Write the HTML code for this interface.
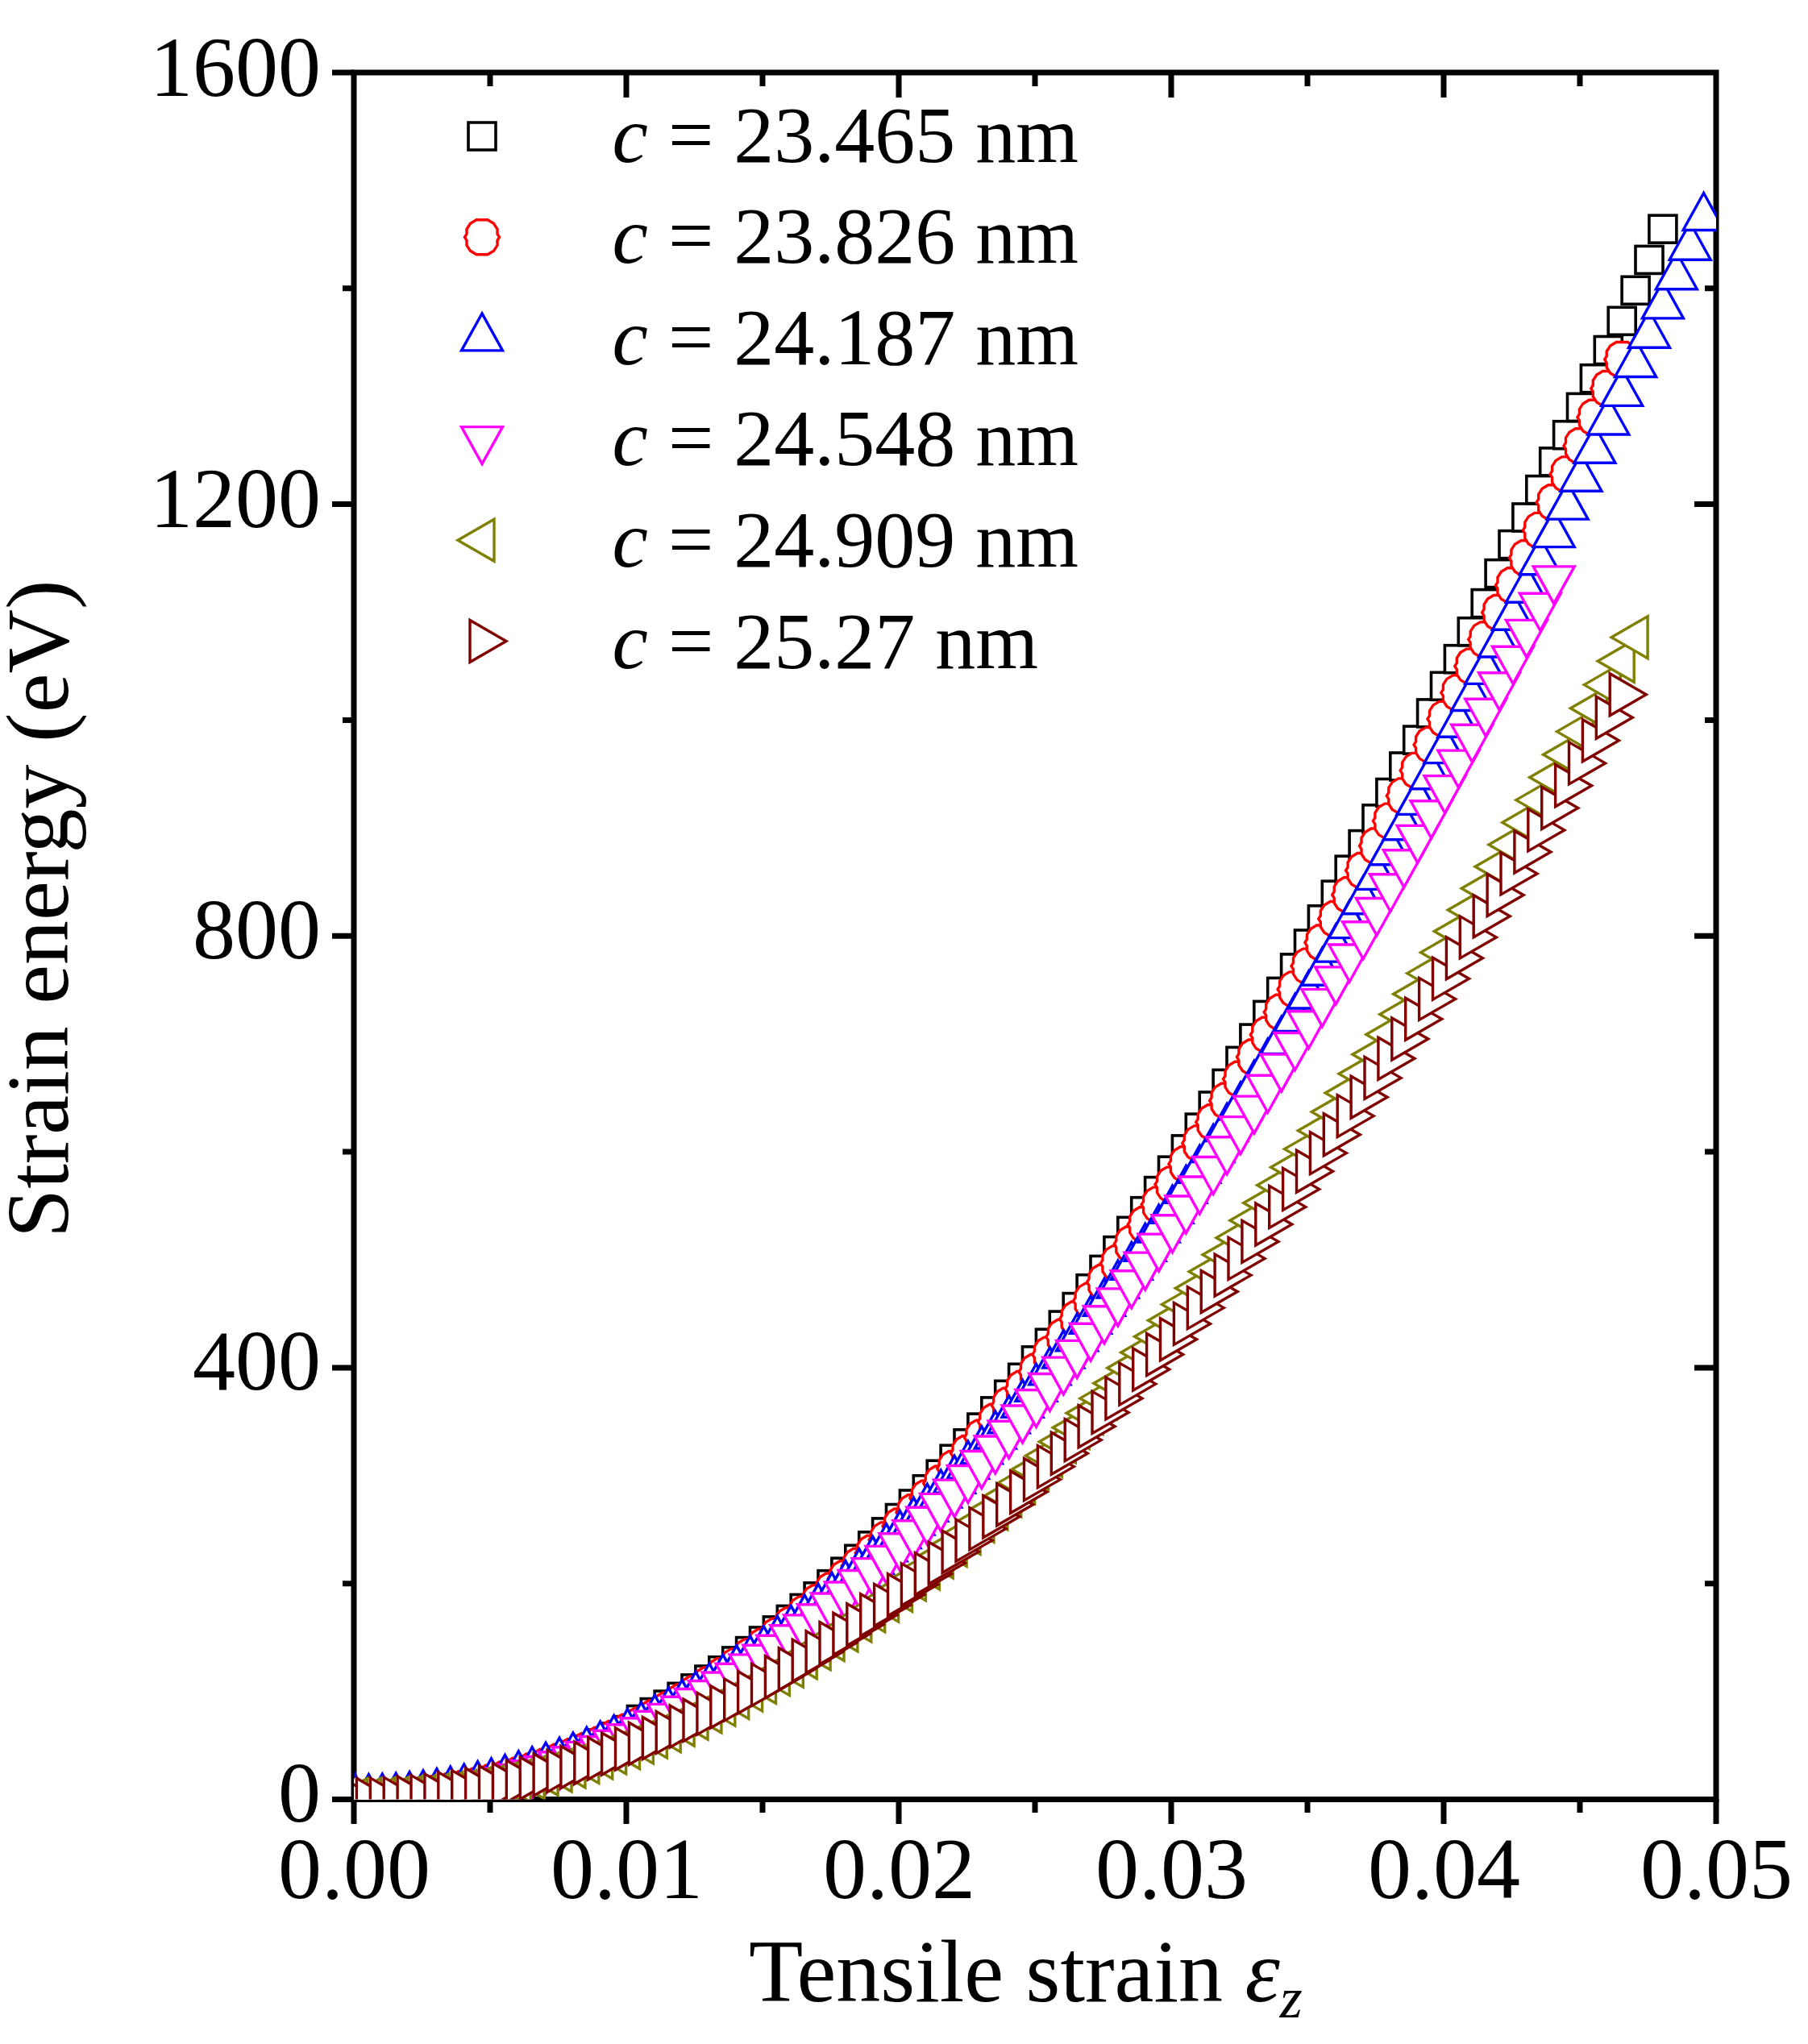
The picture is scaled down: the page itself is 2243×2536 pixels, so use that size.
<!DOCTYPE html><html><head><meta charset="utf-8"><style>html,body{margin:0;padding:0;background:#fff;overflow:hidden;}svg{display:block;}</style></head><body>
<div id="w"><svg width="2243" height="2536" viewBox="0 0 2243 2536">
<rect x="0" y="0" width="2243" height="2536" fill="#fff"/>
<defs><clipPath id="pa"><rect x="439.0" y="90.0" width="1690.0" height="2142.5"/></clipPath></defs>
<g stroke="#000" stroke-width="7.0" fill="none" stroke-linecap="square">
<rect x="439.0" y="90.0" width="1690.0" height="2142.5"/>
</g>
<path d="M439.0,2232.5V2263.0M608.0,2232.5V2249.0M608.0,90.0V107.0M777.0,2232.5V2263.0M777.0,90.0V121.0M946.0,2232.5V2249.0M946.0,90.0V107.0M1115.0,2232.5V2263.0M1115.0,90.0V121.0M1284.0,2232.5V2249.0M1284.0,90.0V107.0M1453.0,2232.5V2263.0M1453.0,90.0V121.0M1622.0,2232.5V2249.0M1622.0,90.0V107.0M1791.0,2232.5V2263.0M1791.0,90.0V121.0M1960.0,2232.5V2249.0M1960.0,90.0V107.0M2129.0,2232.5V2263.0M439.0,2232.5H412.0M439.0,1964.7H425.0M2129.0,1964.7H2115.0M439.0,1696.9H412.0M2129.0,1696.9H2102.0M439.0,1429.1H425.0M2129.0,1429.1H2115.0M439.0,1161.2H412.0M2129.0,1161.2H2102.0M439.0,893.4H425.0M2129.0,893.4H2115.0M439.0,625.6H412.0M2129.0,625.6H2102.0M439.0,357.8H425.0M2129.0,357.8H2115.0M439.0,90.0H412.0" stroke="#000" stroke-width="7.0" fill="none"/>
<g clip-path="url(#pa)">
<g fill="#fff" stroke="#000000" stroke-width="3.6" stroke-linejoin="miter">
<rect x="423.5" y="2215.5" width="34.0" height="34.0"/>
<rect x="440.4" y="2215.3" width="34.0" height="34.0"/>
<rect x="457.3" y="2214.7" width="34.0" height="34.0"/>
<rect x="474.2" y="2213.6" width="34.0" height="34.0"/>
<rect x="491.1" y="2212.1" width="34.0" height="34.0"/>
<rect x="508.0" y="2210.2" width="34.0" height="34.0"/>
<rect x="524.9" y="2207.9" width="34.0" height="34.0"/>
<rect x="541.8" y="2205.1" width="34.0" height="34.0"/>
<rect x="558.7" y="2201.9" width="34.0" height="34.0"/>
<rect x="575.6" y="2198.3" width="34.0" height="34.0"/>
<rect x="592.5" y="2194.2" width="34.0" height="34.0"/>
<rect x="609.4" y="2189.8" width="34.0" height="34.0"/>
<rect x="626.3" y="2184.8" width="34.0" height="34.0"/>
<rect x="643.2" y="2179.5" width="34.0" height="34.0"/>
<rect x="660.1" y="2173.7" width="34.0" height="34.0"/>
<rect x="677.0" y="2167.4" width="34.0" height="34.0"/>
<rect x="693.9" y="2160.7" width="34.0" height="34.0"/>
<rect x="710.8" y="2153.6" width="34.0" height="34.0"/>
<rect x="727.7" y="2146.0" width="34.0" height="34.0"/>
<rect x="744.6" y="2138.0" width="34.0" height="34.0"/>
<rect x="761.5" y="2129.6" width="34.0" height="34.0"/>
<rect x="778.4" y="2116.5" width="34.0" height="34.0"/>
<rect x="795.3" y="2107.6" width="34.0" height="34.0"/>
<rect x="812.2" y="2098.1" width="34.0" height="34.0"/>
<rect x="829.1" y="2088.3" width="34.0" height="34.0"/>
<rect x="846.0" y="2077.9" width="34.0" height="34.0"/>
<rect x="862.9" y="2067.0" width="34.0" height="34.0"/>
<rect x="879.8" y="2055.7" width="34.0" height="34.0"/>
<rect x="896.7" y="2043.9" width="34.0" height="34.0"/>
<rect x="913.6" y="2031.6" width="34.0" height="34.0"/>
<rect x="930.5" y="2019.0" width="34.0" height="34.0"/>
<rect x="947.4" y="2005.9" width="34.0" height="34.0"/>
<rect x="964.3" y="1992.4" width="34.0" height="34.0"/>
<rect x="981.2" y="1978.4" width="34.0" height="34.0"/>
<rect x="998.1" y="1963.8" width="34.0" height="34.0"/>
<rect x="1015.0" y="1948.7" width="34.0" height="34.0"/>
<rect x="1031.9" y="1933.2" width="34.0" height="34.0"/>
<rect x="1048.8" y="1917.3" width="34.0" height="34.0"/>
<rect x="1065.7" y="1900.8" width="34.0" height="34.0"/>
<rect x="1082.6" y="1883.9" width="34.0" height="34.0"/>
<rect x="1099.5" y="1866.5" width="34.0" height="34.0"/>
<rect x="1116.4" y="1849.0" width="34.0" height="34.0"/>
<rect x="1133.3" y="1830.8" width="34.0" height="34.0"/>
<rect x="1150.2" y="1812.2" width="34.0" height="34.0"/>
<rect x="1167.1" y="1793.2" width="34.0" height="34.0"/>
<rect x="1184.0" y="1773.8" width="34.0" height="34.0"/>
<rect x="1200.9" y="1754.1" width="34.0" height="34.0"/>
<rect x="1217.8" y="1733.9" width="34.0" height="34.0"/>
<rect x="1234.7" y="1713.3" width="34.0" height="34.0"/>
<rect x="1251.6" y="1692.3" width="34.0" height="34.0"/>
<rect x="1268.5" y="1670.9" width="34.0" height="34.0"/>
<rect x="1285.4" y="1649.2" width="34.0" height="34.0"/>
<rect x="1302.3" y="1627.1" width="34.0" height="34.0"/>
<rect x="1319.2" y="1604.6" width="34.0" height="34.0"/>
<rect x="1336.1" y="1581.7" width="34.0" height="34.0"/>
<rect x="1353.0" y="1558.4" width="34.0" height="34.0"/>
<rect x="1369.9" y="1534.6" width="34.0" height="34.0"/>
<rect x="1386.8" y="1510.3" width="34.0" height="34.0"/>
<rect x="1403.7" y="1485.7" width="34.0" height="34.0"/>
<rect x="1420.6" y="1460.6" width="34.0" height="34.0"/>
<rect x="1437.5" y="1435.2" width="34.0" height="34.0"/>
<rect x="1454.4" y="1408.9" width="34.0" height="34.0"/>
<rect x="1471.3" y="1382.1" width="34.0" height="34.0"/>
<rect x="1488.2" y="1355.0" width="34.0" height="34.0"/>
<rect x="1505.1" y="1327.4" width="34.0" height="34.0"/>
<rect x="1522.0" y="1299.4" width="34.0" height="34.0"/>
<rect x="1538.9" y="1271.1" width="34.0" height="34.0"/>
<rect x="1555.8" y="1242.4" width="34.0" height="34.0"/>
<rect x="1572.7" y="1213.4" width="34.0" height="34.0"/>
<rect x="1589.6" y="1183.9" width="34.0" height="34.0"/>
<rect x="1606.5" y="1154.0" width="34.0" height="34.0"/>
<rect x="1623.4" y="1123.8" width="34.0" height="34.0"/>
<rect x="1640.3" y="1093.2" width="34.0" height="34.0"/>
<rect x="1657.2" y="1062.2" width="34.0" height="34.0"/>
<rect x="1674.1" y="1030.6" width="34.0" height="34.0"/>
<rect x="1691.0" y="998.8" width="34.0" height="34.0"/>
<rect x="1707.9" y="966.5" width="34.0" height="34.0"/>
<rect x="1724.8" y="934.0" width="34.0" height="34.0"/>
<rect x="1741.7" y="901.1" width="34.0" height="34.0"/>
<rect x="1758.6" y="867.9" width="34.0" height="34.0"/>
<rect x="1775.5" y="834.3" width="34.0" height="34.0"/>
<rect x="1792.4" y="800.7" width="34.0" height="34.0"/>
<rect x="1809.3" y="766.7" width="34.0" height="34.0"/>
<rect x="1826.2" y="731.6" width="34.0" height="34.0"/>
<rect x="1843.1" y="694.6" width="34.0" height="34.0"/>
<rect x="1860.0" y="658.6" width="34.0" height="34.0"/>
<rect x="1876.9" y="625.0" width="34.0" height="34.0"/>
<rect x="1893.8" y="590.6" width="34.0" height="34.0"/>
<rect x="1910.7" y="555.9" width="34.0" height="34.0"/>
<rect x="1927.6" y="522.7" width="34.0" height="34.0"/>
<rect x="1944.5" y="488.4" width="34.0" height="34.0"/>
<rect x="1961.4" y="452.7" width="34.0" height="34.0"/>
<rect x="1978.3" y="417.5" width="34.0" height="34.0"/>
<rect x="1995.2" y="381.3" width="34.0" height="34.0"/>
<rect x="2012.1" y="343.3" width="34.0" height="34.0"/>
<rect x="2029.0" y="305.4" width="34.0" height="34.0"/>
<rect x="2045.9" y="267.2" width="34.0" height="34.0"/>
</g>
<g fill="#fff" stroke="#ff0000" stroke-width="3.4" stroke-linejoin="miter">
<polygon points="433.5,2211.0 447.5,2211.0 455.0,2215.5 459.5,2222.5 459.5,2228.5 462.0,2232.5 459.5,2236.5 459.5,2242.5 455.0,2249.5 447.5,2254.0 433.5,2254.0 426.0,2249.5 421.5,2242.5 421.5,2236.5 419.0,2232.5 421.5,2228.5 421.5,2222.5 426.0,2215.5"/>
<polygon points="450.4,2210.8 464.4,2210.8 471.9,2215.3 476.4,2222.3 476.4,2228.3 478.9,2232.3 476.4,2236.3 476.4,2242.3 471.9,2249.3 464.4,2253.8 450.4,2253.8 442.9,2249.3 438.4,2242.3 438.4,2236.3 435.9,2232.3 438.4,2228.3 438.4,2222.3 442.9,2215.3"/>
<polygon points="467.3,2210.2 481.3,2210.2 488.8,2214.7 493.3,2221.7 493.3,2227.7 495.8,2231.7 493.3,2235.7 493.3,2241.7 488.8,2248.7 481.3,2253.2 467.3,2253.2 459.8,2248.7 455.3,2241.7 455.3,2235.7 452.8,2231.7 455.3,2227.7 455.3,2221.7 459.8,2214.7"/>
<polygon points="484.2,2209.2 498.2,2209.2 505.7,2213.7 510.2,2220.7 510.2,2226.7 512.7,2230.7 510.2,2234.7 510.2,2240.7 505.7,2247.7 498.2,2252.2 484.2,2252.2 476.7,2247.7 472.2,2240.7 472.2,2234.7 469.7,2230.7 472.2,2226.7 472.2,2220.7 476.7,2213.7"/>
<polygon points="501.1,2207.7 515.1,2207.7 522.6,2212.2 527.1,2219.2 527.1,2225.2 529.6,2229.2 527.1,2233.2 527.1,2239.2 522.6,2246.2 515.1,2250.7 501.1,2250.7 493.6,2246.2 489.1,2239.2 489.1,2233.2 486.6,2229.2 489.1,2225.2 489.1,2219.2 493.6,2212.2"/>
<polygon points="518.0,2205.9 532.0,2205.9 539.5,2210.4 544.0,2217.4 544.0,2223.4 546.5,2227.4 544.0,2231.4 544.0,2237.4 539.5,2244.4 532.0,2248.9 518.0,2248.9 510.5,2244.4 506.0,2237.4 506.0,2231.4 503.5,2227.4 506.0,2223.4 506.0,2217.4 510.5,2210.4"/>
<polygon points="534.9,2203.6 548.9,2203.6 556.4,2208.1 560.9,2215.1 560.9,2221.1 563.4,2225.1 560.9,2229.1 560.9,2235.1 556.4,2242.1 548.9,2246.6 534.9,2246.6 527.4,2242.1 522.9,2235.1 522.9,2229.1 520.4,2225.1 522.9,2221.1 522.9,2215.1 527.4,2208.1"/>
<polygon points="551.8,2200.9 565.8,2200.9 573.3,2205.4 577.8,2212.4 577.8,2218.4 580.3,2222.4 577.8,2226.4 577.8,2232.4 573.3,2239.4 565.8,2243.9 551.8,2243.9 544.3,2239.4 539.8,2232.4 539.8,2226.4 537.3,2222.4 539.8,2218.4 539.8,2212.4 544.3,2205.4"/>
<polygon points="568.7,2197.8 582.7,2197.8 590.2,2202.3 594.7,2209.3 594.7,2215.3 597.2,2219.3 594.7,2223.3 594.7,2229.3 590.2,2236.3 582.7,2240.8 568.7,2240.8 561.2,2236.3 556.7,2229.3 556.7,2223.3 554.2,2219.3 556.7,2215.3 556.7,2209.3 561.2,2202.3"/>
<polygon points="585.6,2194.2 599.6,2194.2 607.1,2198.7 611.6,2205.7 611.6,2211.7 614.1,2215.7 611.6,2219.7 611.6,2225.7 607.1,2232.7 599.6,2237.2 585.6,2237.2 578.1,2232.7 573.6,2225.7 573.6,2219.7 571.1,2215.7 573.6,2211.7 573.6,2205.7 578.1,2198.7"/>
<polygon points="602.5,2190.3 616.5,2190.3 624.0,2194.8 628.5,2201.8 628.5,2207.8 631.0,2211.8 628.5,2215.8 628.5,2221.8 624.0,2228.8 616.5,2233.3 602.5,2233.3 595.0,2228.8 590.5,2221.8 590.5,2215.8 588.0,2211.8 590.5,2207.8 590.5,2201.8 595.0,2194.8"/>
<polygon points="619.4,2185.9 633.4,2185.9 640.9,2190.4 645.4,2197.4 645.4,2203.4 647.9,2207.4 645.4,2211.4 645.4,2217.4 640.9,2224.4 633.4,2228.9 619.4,2228.9 611.9,2224.4 607.4,2217.4 607.4,2211.4 604.9,2207.4 607.4,2203.4 607.4,2197.4 611.9,2190.4"/>
<polygon points="636.3,2181.1 650.3,2181.1 657.8,2185.6 662.3,2192.6 662.3,2198.6 664.8,2202.6 662.3,2206.6 662.3,2212.6 657.8,2219.6 650.3,2224.1 636.3,2224.1 628.8,2219.6 624.3,2212.6 624.3,2206.6 621.8,2202.6 624.3,2198.6 624.3,2192.6 628.8,2185.6"/>
<polygon points="653.2,2175.9 667.2,2175.9 674.7,2180.4 679.2,2187.4 679.2,2193.4 681.7,2197.4 679.2,2201.4 679.2,2207.4 674.7,2214.4 667.2,2218.9 653.2,2218.9 645.7,2214.4 641.2,2207.4 641.2,2201.4 638.7,2197.4 641.2,2193.4 641.2,2187.4 645.7,2180.4"/>
<polygon points="670.1,2170.2 684.1,2170.2 691.6,2174.7 696.1,2181.7 696.1,2187.7 698.6,2191.7 696.1,2195.7 696.1,2201.7 691.6,2208.7 684.1,2213.2 670.1,2213.2 662.6,2208.7 658.1,2201.7 658.1,2195.7 655.6,2191.7 658.1,2187.7 658.1,2181.7 662.6,2174.7"/>
<polygon points="687.0,2164.1 701.0,2164.1 708.5,2168.6 713.0,2175.6 713.0,2181.6 715.5,2185.6 713.0,2189.6 713.0,2195.6 708.5,2202.6 701.0,2207.1 687.0,2207.1 679.5,2202.6 675.0,2195.6 675.0,2189.6 672.5,2185.6 675.0,2181.6 675.0,2175.6 679.5,2168.6"/>
<polygon points="703.9,2157.6 717.9,2157.6 725.4,2162.1 729.9,2169.1 729.9,2175.1 732.4,2179.1 729.9,2183.1 729.9,2189.1 725.4,2196.1 717.9,2200.6 703.9,2200.6 696.4,2196.1 691.9,2189.1 691.9,2183.1 689.4,2179.1 691.9,2175.1 691.9,2169.1 696.4,2162.1"/>
<polygon points="720.8,2150.7 734.8,2150.7 742.3,2155.2 746.8,2162.2 746.8,2168.2 749.3,2172.2 746.8,2176.2 746.8,2182.2 742.3,2189.2 734.8,2193.7 720.8,2193.7 713.3,2189.2 708.8,2182.2 708.8,2176.2 706.3,2172.2 708.8,2168.2 708.8,2162.2 713.3,2155.2"/>
<polygon points="737.7,2143.3 751.7,2143.3 759.2,2147.8 763.7,2154.8 763.7,2160.8 766.2,2164.8 763.7,2168.8 763.7,2174.8 759.2,2181.8 751.7,2186.3 737.7,2186.3 730.2,2181.8 725.7,2174.8 725.7,2168.8 723.2,2164.8 725.7,2160.8 725.7,2154.8 730.2,2147.8"/>
<polygon points="754.6,2135.5 768.6,2135.5 776.1,2140.0 780.6,2147.0 780.6,2153.0 783.1,2157.0 780.6,2161.0 780.6,2167.0 776.1,2174.0 768.6,2178.5 754.6,2178.5 747.1,2174.0 742.6,2167.0 742.6,2161.0 740.1,2157.0 742.6,2153.0 742.6,2147.0 747.1,2140.0"/>
<polygon points="771.5,2127.3 785.5,2127.3 793.0,2131.8 797.5,2138.8 797.5,2144.8 800.0,2148.8 797.5,2152.8 797.5,2158.8 793.0,2165.8 785.5,2170.3 771.5,2170.3 764.0,2165.8 759.5,2158.8 759.5,2152.8 757.0,2148.8 759.5,2144.8 759.5,2138.8 764.0,2131.8"/>
<polygon points="788.4,2118.6 802.4,2118.6 809.9,2123.1 814.4,2130.1 814.4,2136.1 816.9,2140.1 814.4,2144.1 814.4,2150.1 809.9,2157.1 802.4,2161.6 788.4,2161.6 780.9,2157.1 776.4,2150.1 776.4,2144.1 773.9,2140.1 776.4,2136.1 776.4,2130.1 780.9,2123.1"/>
<polygon points="805.3,2109.5 819.3,2109.5 826.8,2114.0 831.3,2121.0 831.3,2127.0 833.8,2131.0 831.3,2135.0 831.3,2141.0 826.8,2148.0 819.3,2152.5 805.3,2152.5 797.8,2148.0 793.3,2141.0 793.3,2135.0 790.8,2131.0 793.3,2127.0 793.3,2121.0 797.8,2114.0"/>
<polygon points="822.2,2100.0 836.2,2100.0 843.7,2104.5 848.2,2111.5 848.2,2117.5 850.7,2121.5 848.2,2125.5 848.2,2131.5 843.7,2138.5 836.2,2143.0 822.2,2143.0 814.7,2138.5 810.2,2131.5 810.2,2125.5 807.7,2121.5 810.2,2117.5 810.2,2111.5 814.7,2104.5"/>
<polygon points="839.1,2090.0 853.1,2090.0 860.6,2094.5 865.1,2101.5 865.1,2107.5 867.6,2111.5 865.1,2115.5 865.1,2121.5 860.6,2128.5 853.1,2133.0 839.1,2133.0 831.6,2128.5 827.1,2121.5 827.1,2115.5 824.6,2111.5 827.1,2107.5 827.1,2101.5 831.6,2094.5"/>
<polygon points="856.0,2079.6 870.0,2079.6 877.5,2084.1 882.0,2091.1 882.0,2097.1 884.5,2101.1 882.0,2105.1 882.0,2111.1 877.5,2118.1 870.0,2122.6 856.0,2122.6 848.5,2118.1 844.0,2111.1 844.0,2105.1 841.5,2101.1 844.0,2097.1 844.0,2091.1 848.5,2084.1"/>
<polygon points="872.9,2068.8 886.9,2068.8 894.4,2073.3 898.9,2080.3 898.9,2086.3 901.4,2090.3 898.9,2094.3 898.9,2100.3 894.4,2107.3 886.9,2111.8 872.9,2111.8 865.4,2107.3 860.9,2100.3 860.9,2094.3 858.4,2090.3 860.9,2086.3 860.9,2080.3 865.4,2073.3"/>
<polygon points="889.8,2057.5 903.8,2057.5 911.3,2062.0 915.8,2069.0 915.8,2075.0 918.3,2079.0 915.8,2083.0 915.8,2089.0 911.3,2096.0 903.8,2100.5 889.8,2100.5 882.3,2096.0 877.8,2089.0 877.8,2083.0 875.3,2079.0 877.8,2075.0 877.8,2069.0 882.3,2062.0"/>
<polygon points="906.7,2045.9 920.7,2045.9 928.2,2050.4 932.7,2057.4 932.7,2063.4 935.2,2067.4 932.7,2071.4 932.7,2077.4 928.2,2084.4 920.7,2088.9 906.7,2088.9 899.2,2084.4 894.7,2077.4 894.7,2071.4 892.2,2067.4 894.7,2063.4 894.7,2057.4 899.2,2050.4"/>
<polygon points="923.6,2033.7 937.6,2033.7 945.1,2038.2 949.6,2045.2 949.6,2051.2 952.1,2055.2 949.6,2059.2 949.6,2065.2 945.1,2072.2 937.6,2076.7 923.6,2076.7 916.1,2072.2 911.6,2065.2 911.6,2059.2 909.1,2055.2 911.6,2051.2 911.6,2045.2 916.1,2038.2"/>
<polygon points="940.5,2021.2 954.5,2021.2 962.0,2025.7 966.5,2032.7 966.5,2038.7 969.0,2042.7 966.5,2046.7 966.5,2052.7 962.0,2059.7 954.5,2064.2 940.5,2064.2 933.0,2059.7 928.5,2052.7 928.5,2046.7 926.0,2042.7 928.5,2038.7 928.5,2032.7 933.0,2025.7"/>
<polygon points="957.4,2008.2 971.4,2008.2 978.9,2012.7 983.4,2019.7 983.4,2025.7 985.9,2029.7 983.4,2033.7 983.4,2039.7 978.9,2046.7 971.4,2051.2 957.4,2051.2 949.9,2046.7 945.4,2039.7 945.4,2033.7 942.9,2029.7 945.4,2025.7 945.4,2019.7 949.9,2012.7"/>
<polygon points="974.3,1994.8 988.3,1994.8 995.8,1999.3 1000.3,2006.3 1000.3,2012.3 1002.8,2016.3 1000.3,2020.3 1000.3,2026.3 995.8,2033.3 988.3,2037.8 974.3,2037.8 966.8,2033.3 962.3,2026.3 962.3,2020.3 959.8,2016.3 962.3,2012.3 962.3,2006.3 966.8,1999.3"/>
<polygon points="991.2,1980.9 1005.2,1980.9 1012.7,1985.4 1017.2,1992.4 1017.2,1998.4 1019.7,2002.4 1017.2,2006.4 1017.2,2012.4 1012.7,2019.4 1005.2,2023.9 991.2,2023.9 983.7,2019.4 979.2,2012.4 979.2,2006.4 976.7,2002.4 979.2,1998.4 979.2,1992.4 983.7,1985.4"/>
<polygon points="1008.1,1966.7 1022.1,1966.7 1029.6,1971.2 1034.1,1978.2 1034.1,1984.2 1036.6,1988.2 1034.1,1992.2 1034.1,1998.2 1029.6,2005.2 1022.1,2009.7 1008.1,2009.7 1000.6,2005.2 996.1,1998.2 996.1,1992.2 993.6,1988.2 996.1,1984.2 996.1,1978.2 1000.6,1971.2"/>
<polygon points="1025.0,1952.0 1039.0,1952.0 1046.5,1956.5 1051.0,1963.5 1051.0,1969.5 1053.5,1973.5 1051.0,1977.5 1051.0,1983.5 1046.5,1990.5 1039.0,1995.0 1025.0,1995.0 1017.5,1990.5 1013.0,1983.5 1013.0,1977.5 1010.5,1973.5 1013.0,1969.5 1013.0,1963.5 1017.5,1956.5"/>
<polygon points="1041.9,1936.8 1055.9,1936.8 1063.4,1941.3 1067.9,1948.3 1067.9,1954.3 1070.4,1958.3 1067.9,1962.3 1067.9,1968.3 1063.4,1975.3 1055.9,1979.8 1041.9,1979.8 1034.4,1975.3 1029.9,1968.3 1029.9,1962.3 1027.4,1958.3 1029.9,1954.3 1029.9,1948.3 1034.4,1941.3"/>
<polygon points="1058.8,1921.3 1072.8,1921.3 1080.3,1925.8 1084.8,1932.8 1084.8,1938.8 1087.3,1942.8 1084.8,1946.8 1084.8,1952.8 1080.3,1959.8 1072.8,1964.3 1058.8,1964.3 1051.3,1959.8 1046.8,1952.8 1046.8,1946.8 1044.3,1942.8 1046.8,1938.8 1046.8,1932.8 1051.3,1925.8"/>
<polygon points="1075.7,1905.3 1089.7,1905.3 1097.2,1909.8 1101.7,1916.8 1101.7,1922.8 1104.2,1926.8 1101.7,1930.8 1101.7,1936.8 1097.2,1943.8 1089.7,1948.3 1075.7,1948.3 1068.2,1943.8 1063.7,1936.8 1063.7,1930.8 1061.2,1926.8 1063.7,1922.8 1063.7,1916.8 1068.2,1909.8"/>
<polygon points="1092.6,1888.9 1106.6,1888.9 1114.1,1893.4 1118.6,1900.4 1118.6,1906.4 1121.1,1910.4 1118.6,1914.4 1118.6,1920.4 1114.1,1927.4 1106.6,1931.9 1092.6,1931.9 1085.1,1927.4 1080.6,1920.4 1080.6,1914.4 1078.1,1910.4 1080.6,1906.4 1080.6,1900.4 1085.1,1893.4"/>
<polygon points="1109.5,1872.0 1123.5,1872.0 1131.0,1876.5 1135.5,1883.5 1135.5,1889.5 1138.0,1893.5 1135.5,1897.5 1135.5,1903.5 1131.0,1910.5 1123.5,1915.0 1109.5,1915.0 1102.0,1910.5 1097.5,1903.5 1097.5,1897.5 1095.0,1893.5 1097.5,1889.5 1097.5,1883.5 1102.0,1876.5"/>
<polygon points="1126.4,1854.8 1140.4,1854.8 1147.9,1859.3 1152.4,1866.3 1152.4,1872.3 1154.9,1876.3 1152.4,1880.3 1152.4,1886.3 1147.9,1893.3 1140.4,1897.8 1126.4,1897.8 1118.9,1893.3 1114.4,1886.3 1114.4,1880.3 1111.9,1876.3 1114.4,1872.3 1114.4,1866.3 1118.9,1859.3"/>
<polygon points="1143.3,1837.1 1157.3,1837.1 1164.8,1841.6 1169.3,1848.6 1169.3,1854.6 1171.8,1858.6 1169.3,1862.6 1169.3,1868.6 1164.8,1875.6 1157.3,1880.1 1143.3,1880.1 1135.8,1875.6 1131.3,1868.6 1131.3,1862.6 1128.8,1858.6 1131.3,1854.6 1131.3,1848.6 1135.8,1841.6"/>
<polygon points="1160.2,1819.0 1174.2,1819.0 1181.7,1823.5 1186.2,1830.5 1186.2,1836.5 1188.7,1840.5 1186.2,1844.5 1186.2,1850.5 1181.7,1857.5 1174.2,1862.0 1160.2,1862.0 1152.7,1857.5 1148.2,1850.5 1148.2,1844.5 1145.7,1840.5 1148.2,1836.5 1148.2,1830.5 1152.7,1823.5"/>
<polygon points="1177.1,1800.4 1191.1,1800.4 1198.6,1804.9 1203.1,1811.9 1203.1,1817.9 1205.6,1821.9 1203.1,1825.9 1203.1,1831.9 1198.6,1838.9 1191.1,1843.4 1177.1,1843.4 1169.6,1838.9 1165.1,1831.9 1165.1,1825.9 1162.6,1821.9 1165.1,1817.9 1165.1,1811.9 1169.6,1804.9"/>
<polygon points="1194.0,1781.5 1208.0,1781.5 1215.5,1786.0 1220.0,1793.0 1220.0,1799.0 1222.5,1803.0 1220.0,1807.0 1220.0,1813.0 1215.5,1820.0 1208.0,1824.5 1194.0,1824.5 1186.5,1820.0 1182.0,1813.0 1182.0,1807.0 1179.5,1803.0 1182.0,1799.0 1182.0,1793.0 1186.5,1786.0"/>
<polygon points="1210.9,1762.1 1224.9,1762.1 1232.4,1766.6 1236.9,1773.6 1236.9,1779.6 1239.4,1783.6 1236.9,1787.6 1236.9,1793.6 1232.4,1800.6 1224.9,1805.1 1210.9,1805.1 1203.4,1800.6 1198.9,1793.6 1198.9,1787.6 1196.4,1783.6 1198.9,1779.6 1198.9,1773.6 1203.4,1766.6"/>
<polygon points="1227.8,1742.3 1241.8,1742.3 1249.3,1746.8 1253.8,1753.8 1253.8,1759.8 1256.3,1763.8 1253.8,1767.8 1253.8,1773.8 1249.3,1780.8 1241.8,1785.3 1227.8,1785.3 1220.3,1780.8 1215.8,1773.8 1215.8,1767.8 1213.3,1763.8 1215.8,1759.8 1215.8,1753.8 1220.3,1746.8"/>
<polygon points="1244.7,1722.1 1258.7,1722.1 1266.2,1726.6 1270.7,1733.6 1270.7,1739.6 1273.2,1743.6 1270.7,1747.6 1270.7,1753.6 1266.2,1760.6 1258.7,1765.1 1244.7,1765.1 1237.2,1760.6 1232.7,1753.6 1232.7,1747.6 1230.2,1743.6 1232.7,1739.6 1232.7,1733.6 1237.2,1726.6"/>
<polygon points="1261.6,1701.5 1275.6,1701.5 1283.1,1706.0 1287.6,1713.0 1287.6,1719.0 1290.1,1723.0 1287.6,1727.0 1287.6,1733.0 1283.1,1740.0 1275.6,1744.5 1261.6,1744.5 1254.1,1740.0 1249.6,1733.0 1249.6,1727.0 1247.1,1723.0 1249.6,1719.0 1249.6,1713.0 1254.1,1706.0"/>
<polygon points="1278.5,1680.5 1292.5,1680.5 1300.0,1685.0 1304.5,1692.0 1304.5,1698.0 1307.0,1702.0 1304.5,1706.0 1304.5,1712.0 1300.0,1719.0 1292.5,1723.5 1278.5,1723.5 1271.0,1719.0 1266.5,1712.0 1266.5,1706.0 1264.0,1702.0 1266.5,1698.0 1266.5,1692.0 1271.0,1685.0"/>
<polygon points="1295.4,1659.1 1309.4,1659.1 1316.9,1663.6 1321.4,1670.6 1321.4,1676.6 1323.9,1680.6 1321.4,1684.6 1321.4,1690.6 1316.9,1697.6 1309.4,1702.1 1295.4,1702.1 1287.9,1697.6 1283.4,1690.6 1283.4,1684.6 1280.9,1680.6 1283.4,1676.6 1283.4,1670.6 1287.9,1663.6"/>
<polygon points="1312.3,1637.2 1326.3,1637.2 1333.8,1641.7 1338.3,1648.7 1338.3,1654.7 1340.8,1658.7 1338.3,1662.7 1338.3,1668.7 1333.8,1675.7 1326.3,1680.2 1312.3,1680.2 1304.8,1675.7 1300.3,1668.7 1300.3,1662.7 1297.8,1658.7 1300.3,1654.7 1300.3,1648.7 1304.8,1641.7"/>
<polygon points="1329.2,1615.0 1343.2,1615.0 1350.7,1619.5 1355.2,1626.5 1355.2,1632.5 1357.7,1636.5 1355.2,1640.5 1355.2,1646.5 1350.7,1653.5 1343.2,1658.0 1329.2,1658.0 1321.7,1653.5 1317.2,1646.5 1317.2,1640.5 1314.7,1636.5 1317.2,1632.5 1317.2,1626.5 1321.7,1619.5"/>
<polygon points="1346.1,1592.4 1360.1,1592.4 1367.6,1596.9 1372.1,1603.9 1372.1,1609.9 1374.6,1613.9 1372.1,1617.9 1372.1,1623.9 1367.6,1630.9 1360.1,1635.4 1346.1,1635.4 1338.6,1630.9 1334.1,1623.9 1334.1,1617.9 1331.6,1613.9 1334.1,1609.9 1334.1,1603.9 1338.6,1596.9"/>
<polygon points="1363.0,1569.3 1377.0,1569.3 1384.5,1573.8 1389.0,1580.8 1389.0,1586.8 1391.5,1590.8 1389.0,1594.8 1389.0,1600.8 1384.5,1607.8 1377.0,1612.3 1363.0,1612.3 1355.5,1607.8 1351.0,1600.8 1351.0,1594.8 1348.5,1590.8 1351.0,1586.8 1351.0,1580.8 1355.5,1573.8"/>
<polygon points="1379.9,1545.9 1393.9,1545.9 1401.4,1550.4 1405.9,1557.4 1405.9,1563.4 1408.4,1567.4 1405.9,1571.4 1405.9,1577.4 1401.4,1584.4 1393.9,1588.9 1379.9,1588.9 1372.4,1584.4 1367.9,1577.4 1367.9,1571.4 1365.4,1567.4 1367.9,1563.4 1367.9,1557.4 1372.4,1550.4"/>
<polygon points="1396.8,1522.0 1410.8,1522.0 1418.3,1526.5 1422.8,1533.5 1422.8,1539.5 1425.3,1543.5 1422.8,1547.5 1422.8,1553.5 1418.3,1560.5 1410.8,1565.0 1396.8,1565.0 1389.3,1560.5 1384.8,1553.5 1384.8,1547.5 1382.3,1543.5 1384.8,1539.5 1384.8,1533.5 1389.3,1526.5"/>
<polygon points="1413.7,1497.8 1427.7,1497.8 1435.2,1502.3 1439.7,1509.3 1439.7,1515.3 1442.2,1519.3 1439.7,1523.3 1439.7,1529.3 1435.2,1536.3 1427.7,1540.8 1413.7,1540.8 1406.2,1536.3 1401.7,1529.3 1401.7,1523.3 1399.2,1519.3 1401.7,1515.3 1401.7,1509.3 1406.2,1502.3"/>
<polygon points="1430.6,1473.1 1444.6,1473.1 1452.1,1477.6 1456.6,1484.6 1456.6,1490.6 1459.1,1494.6 1456.6,1498.6 1456.6,1504.6 1452.1,1511.6 1444.6,1516.1 1430.6,1516.1 1423.1,1511.6 1418.6,1504.6 1418.6,1498.6 1416.1,1494.6 1418.6,1490.6 1418.6,1484.6 1423.1,1477.6"/>
<polygon points="1447.5,1448.1 1461.5,1448.1 1469.0,1452.6 1473.5,1459.6 1473.5,1465.6 1476.0,1469.6 1473.5,1473.6 1473.5,1479.6 1469.0,1486.6 1461.5,1491.1 1447.5,1491.1 1440.0,1486.6 1435.5,1479.6 1435.5,1473.6 1433.0,1469.6 1435.5,1465.6 1435.5,1459.6 1440.0,1452.6"/>
<polygon points="1464.4,1422.7 1478.4,1422.7 1485.9,1427.2 1490.4,1434.2 1490.4,1440.2 1492.9,1444.2 1490.4,1448.2 1490.4,1454.2 1485.9,1461.2 1478.4,1465.7 1464.4,1465.7 1456.9,1461.2 1452.4,1454.2 1452.4,1448.2 1449.9,1444.2 1452.4,1440.2 1452.4,1434.2 1456.9,1427.2"/>
<polygon points="1481.3,1396.9 1495.3,1396.9 1502.8,1401.4 1507.3,1408.4 1507.3,1414.4 1509.8,1418.4 1507.3,1422.4 1507.3,1428.4 1502.8,1435.4 1495.3,1439.9 1481.3,1439.9 1473.8,1435.4 1469.3,1428.4 1469.3,1422.4 1466.8,1418.4 1469.3,1414.4 1469.3,1408.4 1473.8,1401.4"/>
<polygon points="1498.2,1370.8 1512.2,1370.8 1519.7,1375.3 1524.2,1382.3 1524.2,1388.3 1526.7,1392.3 1524.2,1396.3 1524.2,1402.3 1519.7,1409.3 1512.2,1413.8 1498.2,1413.8 1490.7,1409.3 1486.2,1402.3 1486.2,1396.3 1483.7,1392.3 1486.2,1388.3 1486.2,1382.3 1490.7,1375.3"/>
<polygon points="1515.1,1344.2 1529.1,1344.2 1536.6,1348.7 1541.1,1355.7 1541.1,1361.7 1543.6,1365.7 1541.1,1369.7 1541.1,1375.7 1536.6,1382.7 1529.1,1387.2 1515.1,1387.2 1507.6,1382.7 1503.1,1375.7 1503.1,1369.7 1500.6,1365.7 1503.1,1361.7 1503.1,1355.7 1507.6,1348.7"/>
<polygon points="1532.0,1317.3 1546.0,1317.3 1553.5,1321.8 1558.0,1328.8 1558.0,1334.8 1560.5,1338.8 1558.0,1342.8 1558.0,1348.8 1553.5,1355.8 1546.0,1360.3 1532.0,1360.3 1524.5,1355.8 1520.0,1348.8 1520.0,1342.8 1517.5,1338.8 1520.0,1334.8 1520.0,1328.8 1524.5,1321.8"/>
<polygon points="1548.9,1290.0 1562.9,1290.0 1570.4,1294.5 1574.9,1301.5 1574.9,1307.5 1577.4,1311.5 1574.9,1315.5 1574.9,1321.5 1570.4,1328.5 1562.9,1333.0 1548.9,1333.0 1541.4,1328.5 1536.9,1321.5 1536.9,1315.5 1534.4,1311.5 1536.9,1307.5 1536.9,1301.5 1541.4,1294.5"/>
<polygon points="1565.8,1262.3 1579.8,1262.3 1587.3,1266.8 1591.8,1273.8 1591.8,1279.8 1594.3,1283.8 1591.8,1287.8 1591.8,1293.8 1587.3,1300.8 1579.8,1305.3 1565.8,1305.3 1558.3,1300.8 1553.8,1293.8 1553.8,1287.8 1551.3,1283.8 1553.8,1279.8 1553.8,1273.8 1558.3,1266.8"/>
<polygon points="1582.7,1234.3 1596.7,1234.3 1604.2,1238.8 1608.7,1245.8 1608.7,1251.8 1611.2,1255.8 1608.7,1259.8 1608.7,1265.8 1604.2,1272.8 1596.7,1277.3 1582.7,1277.3 1575.2,1272.8 1570.7,1265.8 1570.7,1259.8 1568.2,1255.8 1570.7,1251.8 1570.7,1245.8 1575.2,1238.8"/>
<polygon points="1599.6,1205.9 1613.6,1205.9 1621.1,1210.4 1625.6,1217.4 1625.6,1223.4 1628.1,1227.4 1625.6,1231.4 1625.6,1237.4 1621.1,1244.4 1613.6,1248.9 1599.6,1248.9 1592.1,1244.4 1587.6,1237.4 1587.6,1231.4 1585.1,1227.4 1587.6,1223.4 1587.6,1217.4 1592.1,1210.4"/>
<polygon points="1616.5,1177.1 1630.5,1177.1 1638.0,1181.6 1642.5,1188.6 1642.5,1194.6 1645.0,1198.6 1642.5,1202.6 1642.5,1208.6 1638.0,1215.6 1630.5,1220.1 1616.5,1220.1 1609.0,1215.6 1604.5,1208.6 1604.5,1202.6 1602.0,1198.6 1604.5,1194.6 1604.5,1188.6 1609.0,1181.6"/>
<polygon points="1633.4,1148.0 1647.4,1148.0 1654.9,1152.5 1659.4,1159.5 1659.4,1165.5 1661.9,1169.5 1659.4,1173.5 1659.4,1179.5 1654.9,1186.5 1647.4,1191.0 1633.4,1191.0 1625.9,1186.5 1621.4,1179.5 1621.4,1173.5 1618.9,1169.5 1621.4,1165.5 1621.4,1159.5 1625.9,1152.5"/>
<polygon points="1650.3,1118.5 1664.3,1118.5 1671.8,1123.0 1676.3,1130.0 1676.3,1136.0 1678.8,1140.0 1676.3,1144.0 1676.3,1150.0 1671.8,1157.0 1664.3,1161.5 1650.3,1161.5 1642.8,1157.0 1638.3,1150.0 1638.3,1144.0 1635.8,1140.0 1638.3,1136.0 1638.3,1130.0 1642.8,1123.0"/>
<polygon points="1667.2,1088.7 1681.2,1088.7 1688.7,1093.2 1693.2,1100.2 1693.2,1106.2 1695.7,1110.2 1693.2,1114.2 1693.2,1120.2 1688.7,1127.2 1681.2,1131.7 1667.2,1131.7 1659.7,1127.2 1655.2,1120.2 1655.2,1114.2 1652.7,1110.2 1655.2,1106.2 1655.2,1100.2 1659.7,1093.2"/>
<polygon points="1684.1,1058.5 1698.1,1058.5 1705.6,1063.0 1710.1,1070.0 1710.1,1076.0 1712.6,1080.0 1710.1,1084.0 1710.1,1090.0 1705.6,1097.0 1698.1,1101.5 1684.1,1101.5 1676.6,1097.0 1672.1,1090.0 1672.1,1084.0 1669.6,1080.0 1672.1,1076.0 1672.1,1070.0 1676.6,1063.0"/>
<polygon points="1701.0,1028.0 1715.0,1028.0 1722.5,1032.5 1727.0,1039.5 1727.0,1045.5 1729.5,1049.5 1727.0,1053.5 1727.0,1059.5 1722.5,1066.5 1715.0,1071.0 1701.0,1071.0 1693.5,1066.5 1689.0,1059.5 1689.0,1053.5 1686.5,1049.5 1689.0,1045.5 1689.0,1039.5 1693.5,1032.5"/>
<polygon points="1717.9,997.1 1731.9,997.1 1739.4,1001.6 1743.9,1008.6 1743.9,1014.6 1746.4,1018.6 1743.9,1022.6 1743.9,1028.6 1739.4,1035.6 1731.9,1040.1 1717.9,1040.1 1710.4,1035.6 1705.9,1028.6 1705.9,1022.6 1703.4,1018.6 1705.9,1014.6 1705.9,1008.6 1710.4,1001.6"/>
<polygon points="1734.8,965.9 1748.8,965.9 1756.3,970.4 1760.8,977.4 1760.8,983.4 1763.3,987.4 1760.8,991.4 1760.8,997.4 1756.3,1004.4 1748.8,1008.9 1734.8,1008.9 1727.3,1004.4 1722.8,997.4 1722.8,991.4 1720.3,987.4 1722.8,983.4 1722.8,977.4 1727.3,970.4"/>
<polygon points="1751.7,934.4 1765.7,934.4 1773.2,938.9 1777.7,945.9 1777.7,951.9 1780.2,955.9 1777.7,959.9 1777.7,965.9 1773.2,972.9 1765.7,977.4 1751.7,977.4 1744.2,972.9 1739.7,965.9 1739.7,959.9 1737.2,955.9 1739.7,951.9 1739.7,945.9 1744.2,938.9"/>
<polygon points="1768.6,902.6 1782.6,902.6 1790.1,907.1 1794.6,914.1 1794.6,920.1 1797.1,924.1 1794.6,928.1 1794.6,934.1 1790.1,941.1 1782.6,945.6 1768.6,945.6 1761.1,941.1 1756.6,934.1 1756.6,928.1 1754.1,924.1 1756.6,920.1 1756.6,914.1 1761.1,907.1"/>
<polygon points="1785.5,870.4 1799.5,870.4 1807.0,874.9 1811.5,881.9 1811.5,887.9 1814.0,891.9 1811.5,895.9 1811.5,901.9 1807.0,908.9 1799.5,913.4 1785.5,913.4 1778.0,908.9 1773.5,901.9 1773.5,895.9 1771.0,891.9 1773.5,887.9 1773.5,881.9 1778.0,874.9"/>
<polygon points="1802.4,837.9 1816.4,837.9 1823.9,842.4 1828.4,849.4 1828.4,855.4 1830.9,859.4 1828.4,863.4 1828.4,869.4 1823.9,876.4 1816.4,880.9 1802.4,880.9 1794.9,876.4 1790.4,869.4 1790.4,863.4 1787.9,859.4 1790.4,855.4 1790.4,849.4 1794.9,842.4"/>
<polygon points="1819.3,805.1 1833.3,805.1 1840.8,809.6 1845.3,816.6 1845.3,822.6 1847.8,826.6 1845.3,830.6 1845.3,836.6 1840.8,843.6 1833.3,848.1 1819.3,848.1 1811.8,843.6 1807.3,836.6 1807.3,830.6 1804.8,826.6 1807.3,822.6 1807.3,816.6 1811.8,809.6"/>
<polygon points="1836.2,771.9 1850.2,771.9 1857.7,776.4 1862.2,783.4 1862.2,789.4 1864.7,793.4 1862.2,797.4 1862.2,803.4 1857.7,810.4 1850.2,814.9 1836.2,814.9 1828.7,810.4 1824.2,803.4 1824.2,797.4 1821.7,793.4 1824.2,789.4 1824.2,783.4 1828.7,776.4"/>
<polygon points="1853.1,738.5 1867.1,738.5 1874.6,743.0 1879.1,750.0 1879.1,756.0 1881.6,760.0 1879.1,764.0 1879.1,770.0 1874.6,777.0 1867.1,781.5 1853.1,781.5 1845.6,777.0 1841.1,770.0 1841.1,764.0 1838.6,760.0 1841.1,756.0 1841.1,750.0 1845.6,743.0"/>
<polygon points="1870.0,704.8 1884.0,704.8 1891.5,709.3 1896.0,716.3 1896.0,722.3 1898.5,726.3 1896.0,730.3 1896.0,736.3 1891.5,743.3 1884.0,747.8 1870.0,747.8 1862.5,743.3 1858.0,736.3 1858.0,730.3 1855.5,726.3 1858.0,722.3 1858.0,716.3 1862.5,709.3"/>
<polygon points="1886.9,670.7 1900.9,670.7 1908.4,675.2 1912.9,682.2 1912.9,688.2 1915.4,692.2 1912.9,696.2 1912.9,702.2 1908.4,709.2 1900.9,713.7 1886.9,713.7 1879.4,709.2 1874.9,702.2 1874.9,696.2 1872.4,692.2 1874.9,688.2 1874.9,682.2 1879.4,675.2"/>
<polygon points="1903.8,636.4 1917.8,636.4 1925.3,640.9 1929.8,647.9 1929.8,653.9 1932.3,657.9 1929.8,661.9 1929.8,667.9 1925.3,674.9 1917.8,679.4 1903.8,679.4 1896.3,674.9 1891.8,667.9 1891.8,661.9 1889.3,657.9 1891.8,653.9 1891.8,647.9 1896.3,640.9"/>
<polygon points="1920.7,601.8 1934.7,601.8 1942.2,606.3 1946.7,613.3 1946.7,619.3 1949.2,623.3 1946.7,627.3 1946.7,633.3 1942.2,640.3 1934.7,644.8 1920.7,644.8 1913.2,640.3 1908.7,633.3 1908.7,627.3 1906.2,623.3 1908.7,619.3 1908.7,613.3 1913.2,606.3"/>
<polygon points="1937.6,566.9 1951.6,566.9 1959.1,571.4 1963.6,578.4 1963.6,584.4 1966.1,588.4 1963.6,592.4 1963.6,598.4 1959.1,605.4 1951.6,609.9 1937.6,609.9 1930.1,605.4 1925.6,598.4 1925.6,592.4 1923.1,588.4 1925.6,584.4 1925.6,578.4 1930.1,571.4"/>
<polygon points="1954.5,531.7 1968.5,531.7 1976.0,536.2 1980.5,543.2 1980.5,549.2 1983.0,553.2 1980.5,557.2 1980.5,563.2 1976.0,570.2 1968.5,574.7 1954.5,574.7 1947.0,570.2 1942.5,563.2 1942.5,557.2 1940.0,553.2 1942.5,549.2 1942.5,543.2 1947.0,536.2"/>
<polygon points="1971.4,496.2 1985.4,496.2 1992.9,500.7 1997.4,507.7 1997.4,513.7 1999.9,517.7 1997.4,521.7 1997.4,527.7 1992.9,534.7 1985.4,539.2 1971.4,539.2 1963.9,534.7 1959.4,527.7 1959.4,521.7 1956.9,517.7 1959.4,513.7 1959.4,507.7 1963.9,500.7"/>
<polygon points="1988.3,460.5 2002.3,460.5 2009.8,465.0 2014.3,472.0 2014.3,478.0 2016.8,482.0 2014.3,486.0 2014.3,492.0 2009.8,499.0 2002.3,503.5 1988.3,503.5 1980.8,499.0 1976.3,492.0 1976.3,486.0 1973.8,482.0 1976.3,478.0 1976.3,472.0 1980.8,465.0"/>
<polygon points="2005.2,424.5 2019.2,424.5 2026.7,429.0 2031.2,436.0 2031.2,442.0 2033.7,446.0 2031.2,450.0 2031.2,456.0 2026.7,463.0 2019.2,467.5 2005.2,467.5 1997.7,463.0 1993.2,456.0 1993.2,450.0 1990.7,446.0 1993.2,442.0 1993.2,436.0 1997.7,429.0"/>
</g>
<g fill="#fff" stroke="#0000ff" stroke-width="3.4" stroke-linejoin="miter">
<polygon points="440.5,2201.8 466.0,2247.8 415.0,2247.8"/>
<polygon points="457.4,2201.6 482.9,2247.6 431.9,2247.6"/>
<polygon points="474.3,2201.0 499.8,2247.0 448.8,2247.0"/>
<polygon points="491.2,2200.0 516.7,2246.0 465.7,2246.0"/>
<polygon points="508.1,2198.6 533.6,2244.6 482.6,2244.6"/>
<polygon points="525.0,2196.8 550.5,2242.8 499.5,2242.8"/>
<polygon points="541.9,2194.6 567.4,2240.6 516.4,2240.6"/>
<polygon points="558.8,2192.0 584.3,2238.0 533.3,2238.0"/>
<polygon points="575.7,2189.0 601.2,2235.0 550.2,2235.0"/>
<polygon points="592.6,2185.5 618.1,2231.5 567.1,2231.5"/>
<polygon points="609.5,2181.7 635.0,2227.7 584.0,2227.7"/>
<polygon points="626.4,2177.4 651.9,2223.4 600.9,2223.4"/>
<polygon points="643.3,2172.8 668.8,2218.8 617.8,2218.8"/>
<polygon points="660.2,2167.7 685.7,2213.7 634.7,2213.7"/>
<polygon points="677.1,2162.2 702.6,2208.2 651.6,2208.2"/>
<polygon points="694.0,2156.3 719.5,2202.3 668.5,2202.3"/>
<polygon points="710.9,2149.9 736.4,2195.9 685.4,2195.9"/>
<polygon points="727.8,2143.2 753.3,2189.2 702.3,2189.2"/>
<polygon points="744.7,2136.0 770.2,2182.0 719.2,2182.0"/>
<polygon points="761.6,2128.5 787.1,2174.5 736.1,2174.5"/>
<polygon points="778.5,2120.5 804.0,2166.5 753.0,2166.5"/>
<polygon points="795.4,2112.1 820.9,2158.1 769.9,2158.1"/>
<polygon points="812.3,2103.3 837.8,2149.3 786.8,2149.3"/>
<polygon points="829.2,2094.0 854.7,2140.0 803.7,2140.0"/>
<polygon points="846.1,2084.4 871.6,2130.4 820.6,2130.4"/>
<polygon points="863.0,2074.3 888.5,2120.3 837.5,2120.3"/>
<polygon points="879.9,2063.8 905.4,2109.8 854.4,2109.8"/>
<polygon points="896.8,2052.9 922.3,2098.9 871.3,2098.9"/>
<polygon points="913.7,2041.6 939.2,2087.6 888.2,2087.6"/>
<polygon points="930.6,2029.8 956.1,2075.8 905.1,2075.8"/>
<polygon points="947.5,2017.7 973.0,2063.7 922.0,2063.7"/>
<polygon points="964.4,2005.2 989.9,2051.2 938.9,2051.2"/>
<polygon points="981.3,1992.3 1006.8,2038.3 955.8,2038.3"/>
<polygon points="998.2,1979.0 1023.7,2025.0 972.7,2025.0"/>
<polygon points="1015.1,1965.3 1040.6,2011.3 989.6,2011.3"/>
<polygon points="1032.0,1951.2 1057.5,1997.2 1006.5,1997.2"/>
<polygon points="1048.9,1936.6 1074.4,1982.6 1023.4,1982.6"/>
<polygon points="1065.8,1921.7 1091.3,1967.7 1040.3,1967.7"/>
<polygon points="1082.7,1906.4 1108.2,1952.4 1057.2,1952.4"/>
<polygon points="1099.6,1890.7 1125.1,1936.7 1074.1,1936.7"/>
<polygon points="1116.5,1874.6 1142.0,1920.6 1091.0,1920.6"/>
<polygon points="1133.4,1858.1 1158.9,1904.1 1107.9,1904.1"/>
<polygon points="1150.3,1841.2 1175.8,1887.2 1124.8,1887.2"/>
<polygon points="1167.2,1824.0 1192.7,1870.0 1141.7,1870.0"/>
<polygon points="1184.1,1806.3 1209.6,1852.3 1158.6,1852.3"/>
<polygon points="1201.0,1788.3 1226.5,1834.3 1175.5,1834.3"/>
<polygon points="1217.9,1769.8 1243.4,1815.8 1192.4,1815.8"/>
<polygon points="1234.8,1751.0 1260.3,1797.0 1209.3,1797.0"/>
<polygon points="1251.7,1731.8 1277.2,1777.8 1226.2,1777.8"/>
<polygon points="1268.6,1712.3 1294.1,1758.3 1243.1,1758.3"/>
<polygon points="1285.5,1692.3 1311.0,1738.3 1260.0,1738.3"/>
<polygon points="1302.4,1671.9 1327.9,1717.9 1276.9,1717.9"/>
<polygon points="1319.3,1651.1 1344.8,1697.1 1293.8,1697.1"/>
<polygon points="1336.2,1629.9 1361.7,1675.9 1310.7,1675.9"/>
<polygon points="1353.1,1608.3 1378.6,1654.3 1327.6,1654.3"/>
<polygon points="1370.0,1586.4 1395.5,1632.4 1344.5,1632.4"/>
<polygon points="1386.9,1564.1 1412.4,1610.1 1361.4,1610.1"/>
<polygon points="1403.8,1541.4 1429.3,1587.4 1378.3,1587.4"/>
<polygon points="1420.7,1518.4 1446.2,1564.4 1395.2,1564.4"/>
<polygon points="1437.6,1495.0 1463.1,1541.0 1412.1,1541.0"/>
<polygon points="1454.5,1471.3 1480.0,1517.3 1429.0,1517.3"/>
<polygon points="1471.4,1446.4 1496.9,1492.4 1445.9,1492.4"/>
<polygon points="1488.3,1421.2 1513.8,1467.2 1462.8,1467.2"/>
<polygon points="1505.2,1395.5 1530.7,1441.5 1479.7,1441.5"/>
<polygon points="1522.1,1369.5 1547.6,1415.5 1496.6,1415.5"/>
<polygon points="1539.0,1343.1 1564.5,1389.1 1513.5,1389.1"/>
<polygon points="1555.9,1316.2 1581.4,1362.2 1530.4,1362.2"/>
<polygon points="1572.8,1289.0 1598.3,1335.0 1547.3,1335.0"/>
<polygon points="1589.7,1261.4 1615.2,1307.4 1564.2,1307.4"/>
<polygon points="1606.6,1233.4 1632.1,1279.4 1581.1,1279.4"/>
<polygon points="1623.5,1205.0 1649.0,1251.0 1598.0,1251.0"/>
<polygon points="1640.4,1176.3 1665.9,1222.3 1614.9,1222.3"/>
<polygon points="1657.3,1147.1 1682.8,1193.1 1631.8,1193.1"/>
<polygon points="1674.2,1117.6 1699.7,1163.6 1648.7,1163.6"/>
<polygon points="1691.1,1087.7 1716.6,1133.7 1665.6,1133.7"/>
<polygon points="1708.0,1057.4 1733.5,1103.4 1682.5,1103.4"/>
<polygon points="1724.9,1026.8 1750.4,1072.8 1699.4,1072.8"/>
<polygon points="1741.8,995.8 1767.3,1041.8 1716.3,1041.8"/>
<polygon points="1758.7,964.4 1784.2,1010.4 1733.2,1010.4"/>
<polygon points="1775.6,932.7 1801.1,978.7 1750.1,978.7"/>
<polygon points="1792.5,900.6 1818.0,946.6 1767.0,946.6"/>
<polygon points="1809.4,868.3 1834.9,914.3 1783.9,914.3"/>
<polygon points="1826.3,835.5 1851.8,881.5 1800.8,881.5"/>
<polygon points="1843.2,802.4 1868.7,848.4 1817.7,848.4"/>
<polygon points="1860.1,769.0 1885.6,815.0 1834.6,815.0"/>
<polygon points="1877.0,735.2 1902.5,781.2 1851.5,781.2"/>
<polygon points="1893.9,701.2 1919.4,747.2 1868.4,747.2"/>
<polygon points="1910.8,666.7 1936.3,712.7 1885.3,712.7"/>
<polygon points="1927.7,632.6 1953.2,678.6 1902.2,678.6"/>
<polygon points="1944.6,598.1 1970.1,644.1 1919.1,644.1"/>
<polygon points="1961.5,563.3 1987.0,609.3 1936.0,609.3"/>
<polygon points="1978.4,528.3 2003.9,574.3 1952.9,574.3"/>
<polygon points="1995.3,493.0 2020.8,539.0 1969.8,539.0"/>
<polygon points="2012.2,457.4 2037.7,503.4 1986.7,503.4"/>
<polygon points="2029.1,421.5 2054.6,467.5 2003.6,467.5"/>
<polygon points="2046.0,385.3 2071.5,431.3 2020.5,431.3"/>
<polygon points="2062.9,348.9 2088.4,394.9 2037.4,394.9"/>
<polygon points="2079.8,312.7 2105.3,358.7 2054.3,358.7"/>
<polygon points="2096.7,276.2 2122.2,322.2 2071.2,322.2"/>
<polygon points="2113.6,239.5 2139.1,285.5 2088.1,285.5"/>
</g>
<g fill="#fff" stroke="#ff00ff" stroke-width="3.4" stroke-linejoin="miter">
<polygon points="440.5,2263.2 466.0,2217.2 415.0,2217.2"/>
<polygon points="457.4,2263.0 482.9,2217.0 431.9,2217.0"/>
<polygon points="474.3,2262.4 499.8,2216.4 448.8,2216.4"/>
<polygon points="491.2,2261.5 516.7,2215.5 465.7,2215.5"/>
<polygon points="508.1,2260.1 533.6,2214.1 482.6,2214.1"/>
<polygon points="525.0,2258.4 550.5,2212.4 499.5,2212.4"/>
<polygon points="541.9,2256.3 567.4,2210.3 516.4,2210.3"/>
<polygon points="558.8,2253.8 584.3,2207.8 533.3,2207.8"/>
<polygon points="575.7,2250.9 601.2,2204.9 550.2,2204.9"/>
<polygon points="592.6,2247.7 618.1,2201.7 567.1,2201.7"/>
<polygon points="609.5,2244.0 635.0,2198.0 584.0,2198.0"/>
<polygon points="626.4,2240.0 651.9,2194.0 600.9,2194.0"/>
<polygon points="643.3,2235.5 668.8,2189.5 617.8,2189.5"/>
<polygon points="660.2,2230.7 685.7,2184.7 634.7,2184.7"/>
<polygon points="677.1,2225.5 702.6,2179.5 651.6,2179.5"/>
<polygon points="694.0,2219.8 719.5,2173.8 668.5,2173.8"/>
<polygon points="710.9,2213.8 736.4,2167.8 685.4,2167.8"/>
<polygon points="727.8,2207.4 753.3,2161.4 702.3,2161.4"/>
<polygon points="744.7,2200.5 770.2,2154.5 719.2,2154.5"/>
<polygon points="761.6,2193.3 787.1,2147.3 736.1,2147.3"/>
<polygon points="778.5,2185.7 804.0,2139.7 753.0,2139.7"/>
<polygon points="795.4,2177.7 820.9,2131.7 769.9,2131.7"/>
<polygon points="812.3,2169.2 837.8,2123.2 786.8,2123.2"/>
<polygon points="829.2,2160.4 854.7,2114.4 803.7,2114.4"/>
<polygon points="846.1,2151.2 871.6,2105.2 820.6,2105.2"/>
<polygon points="863.0,2141.5 888.5,2095.5 837.5,2095.5"/>
<polygon points="879.9,2131.5 905.4,2085.5 854.4,2085.5"/>
<polygon points="896.8,2121.0 922.3,2075.0 871.3,2075.0"/>
<polygon points="913.7,2110.2 939.2,2064.2 888.2,2064.2"/>
<polygon points="930.6,2098.9 956.1,2052.9 905.1,2052.9"/>
<polygon points="947.5,2087.3 973.0,2041.3 922.0,2041.3"/>
<polygon points="964.4,2075.2 989.9,2029.2 938.9,2029.2"/>
<polygon points="981.3,2062.8 1006.8,2016.8 955.8,2016.8"/>
<polygon points="998.2,2049.9 1023.7,2003.9 972.7,2003.9"/>
<polygon points="1015.1,2036.7 1040.6,1990.7 989.6,1990.7"/>
<polygon points="1032.0,2023.0 1057.5,1977.0 1006.5,1977.0"/>
<polygon points="1048.9,2009.0 1074.4,1963.0 1023.4,1963.0"/>
<polygon points="1065.8,1994.5 1091.3,1948.5 1040.3,1948.5"/>
<polygon points="1082.7,1979.6 1108.2,1933.6 1057.2,1933.6"/>
<polygon points="1099.6,1964.4 1125.1,1918.4 1074.1,1918.4"/>
<polygon points="1116.5,1948.7 1142.0,1902.7 1091.0,1902.7"/>
<polygon points="1133.4,1932.7 1158.9,1886.7 1107.9,1886.7"/>
<polygon points="1150.3,1916.2 1175.8,1870.2 1124.8,1870.2"/>
<polygon points="1167.2,1899.4 1192.7,1853.4 1141.7,1853.4"/>
<polygon points="1184.1,1882.1 1209.6,1836.1 1158.6,1836.1"/>
<polygon points="1201.0,1864.5 1226.5,1818.5 1175.5,1818.5"/>
<polygon points="1217.9,1846.5 1243.4,1800.5 1192.4,1800.5"/>
<polygon points="1234.8,1828.0 1260.3,1782.0 1209.3,1782.0"/>
<polygon points="1251.7,1809.2 1277.2,1763.2 1226.2,1763.2"/>
<polygon points="1268.6,1790.0 1294.1,1744.0 1243.1,1744.0"/>
<polygon points="1285.5,1770.5 1311.0,1724.5 1260.0,1724.5"/>
<polygon points="1302.4,1750.5 1327.9,1704.5 1276.9,1704.5"/>
<polygon points="1319.3,1730.1 1344.8,1684.1 1293.8,1684.1"/>
<polygon points="1336.2,1709.4 1361.7,1663.4 1310.7,1663.4"/>
<polygon points="1353.1,1688.3 1378.6,1642.3 1327.6,1642.3"/>
<polygon points="1370.0,1666.8 1395.5,1620.8 1344.5,1620.8"/>
<polygon points="1386.9,1644.9 1412.4,1598.9 1361.4,1598.9"/>
<polygon points="1403.8,1622.7 1429.3,1576.7 1378.3,1576.7"/>
<polygon points="1420.7,1600.1 1446.2,1554.1 1395.2,1554.1"/>
<polygon points="1437.6,1577.1 1463.1,1531.1 1412.1,1531.1"/>
<polygon points="1454.5,1553.8 1480.0,1507.8 1429.0,1507.8"/>
<polygon points="1471.4,1530.0 1496.9,1484.0 1445.9,1484.0"/>
<polygon points="1488.3,1506.0 1513.8,1460.0 1462.8,1460.0"/>
<polygon points="1505.2,1481.5 1530.7,1435.5 1479.7,1435.5"/>
<polygon points="1522.1,1456.8 1547.6,1410.8 1496.6,1410.8"/>
<polygon points="1539.0,1431.6 1564.5,1385.6 1513.5,1385.6"/>
<polygon points="1555.9,1406.1 1581.4,1360.1 1530.4,1360.1"/>
<polygon points="1572.8,1380.3 1598.3,1334.3 1547.3,1334.3"/>
<polygon points="1589.7,1354.1 1615.2,1308.1 1564.2,1308.1"/>
<polygon points="1606.6,1327.5 1632.1,1281.5 1581.1,1281.5"/>
<polygon points="1623.5,1300.7 1649.0,1254.7 1598.0,1254.7"/>
<polygon points="1640.4,1273.4 1665.9,1227.4 1614.9,1227.4"/>
<polygon points="1657.3,1245.9 1682.8,1199.9 1631.8,1199.9"/>
<polygon points="1674.2,1218.0 1699.7,1172.0 1648.7,1172.0"/>
<polygon points="1691.1,1189.8 1716.6,1143.8 1665.6,1143.8"/>
<polygon points="1708.0,1160.5 1733.5,1114.5 1682.5,1114.5"/>
<polygon points="1724.9,1130.8 1750.4,1084.8 1699.4,1084.8"/>
<polygon points="1741.8,1100.8 1767.3,1054.8 1716.3,1054.8"/>
<polygon points="1758.7,1070.4 1784.2,1024.4 1733.2,1024.4"/>
<polygon points="1775.6,1039.7 1801.1,993.7 1750.1,993.7"/>
<polygon points="1792.5,1008.6 1818.0,962.6 1767.0,962.6"/>
<polygon points="1809.4,977.1 1834.9,931.1 1783.9,931.1"/>
<polygon points="1826.3,945.3 1851.8,899.3 1800.8,899.3"/>
<polygon points="1843.2,913.2 1868.7,867.2 1817.7,867.2"/>
<polygon points="1860.1,880.7 1885.6,834.7 1834.6,834.7"/>
<polygon points="1877.0,848.2 1902.5,802.2 1851.5,802.2"/>
<polygon points="1893.9,815.4 1919.4,769.4 1868.4,769.4"/>
<polygon points="1910.8,782.3 1936.3,736.3 1885.3,736.3"/>
<polygon points="1927.7,748.9 1953.2,702.9 1902.2,702.9"/>
</g>
<g fill="#fff" stroke="#808000" stroke-width="3.4" stroke-linejoin="miter">
<polygon points="410.5,2232.5 455.5,2206.5 455.5,2258.5"/>
<polygon points="427.4,2232.3 472.4,2206.3 472.4,2258.3"/>
<polygon points="444.3,2231.9 489.3,2205.9 489.3,2257.9"/>
<polygon points="461.2,2231.1 506.2,2205.1 506.2,2257.1"/>
<polygon points="478.1,2230.0 523.1,2204.0 523.1,2256.0"/>
<polygon points="495.0,2228.6 540.0,2202.6 540.0,2254.6"/>
<polygon points="511.9,2226.8 556.9,2200.8 556.9,2252.8"/>
<polygon points="528.8,2224.8 573.8,2198.8 573.8,2250.8"/>
<polygon points="545.7,2222.4 590.7,2196.4 590.7,2248.4"/>
<polygon points="562.6,2219.7 607.6,2193.7 607.6,2245.7"/>
<polygon points="579.5,2216.7 624.5,2190.7 624.5,2242.7"/>
<polygon points="596.4,2213.3 641.4,2187.3 641.4,2239.3"/>
<polygon points="613.3,2209.6 658.3,2183.6 658.3,2235.6"/>
<polygon points="630.2,2205.6 675.2,2179.6 675.2,2231.6"/>
<polygon points="647.1,2201.3 692.1,2175.3 692.1,2227.3"/>
<polygon points="664.0,2196.7 709.0,2170.7 709.0,2222.7"/>
<polygon points="680.9,2191.7 725.9,2165.7 725.9,2217.7"/>
<polygon points="697.8,2186.4 742.8,2160.4 742.8,2212.4"/>
<polygon points="714.7,2180.7 759.7,2154.7 759.7,2206.7"/>
<polygon points="731.6,2174.8 776.6,2148.8 776.6,2200.8"/>
<polygon points="748.5,2168.5 793.5,2142.5 793.5,2194.5"/>
<polygon points="765.4,2161.9 810.4,2135.9 810.4,2187.9"/>
<polygon points="782.3,2154.9 827.3,2128.9 827.3,2180.9"/>
<polygon points="799.2,2147.6 844.2,2121.6 844.2,2173.6"/>
<polygon points="816.1,2140.0 861.1,2114.0 861.1,2166.0"/>
<polygon points="833.0,2132.0 878.0,2106.0 878.0,2158.0"/>
<polygon points="849.9,2123.8 894.9,2097.8 894.9,2149.8"/>
<polygon points="866.8,2115.1 911.8,2089.1 911.8,2141.1"/>
<polygon points="883.7,2106.2 928.7,2080.2 928.7,2132.2"/>
<polygon points="900.6,2096.9 945.6,2070.9 945.6,2122.9"/>
<polygon points="917.5,2087.3 962.5,2061.3 962.5,2113.3"/>
<polygon points="934.4,2077.4 979.4,2051.4 979.4,2103.4"/>
<polygon points="951.3,2067.1 996.3,2041.1 996.3,2093.1"/>
<polygon points="968.2,2056.5 1013.2,2030.5 1013.2,2082.5"/>
<polygon points="985.1,2045.6 1030.1,2019.6 1030.1,2071.6"/>
<polygon points="1002.0,2034.3 1047.0,2008.3 1047.0,2060.3"/>
<polygon points="1018.9,2022.8 1063.9,1996.8 1063.9,2048.8"/>
<polygon points="1035.8,2010.9 1080.8,1984.9 1080.8,2036.9"/>
<polygon points="1052.7,1998.6 1097.7,1972.6 1097.7,2024.6"/>
<polygon points="1069.6,1986.1 1114.6,1960.1 1114.6,2012.1"/>
<polygon points="1086.5,1973.2 1131.5,1947.2 1131.5,1999.2"/>
<polygon points="1103.4,1959.7 1148.4,1933.7 1148.4,1985.7"/>
<polygon points="1120.3,1945.9 1165.3,1919.9 1165.3,1971.9"/>
<polygon points="1137.2,1931.8 1182.2,1905.8 1182.2,1957.8"/>
<polygon points="1154.1,1917.3 1199.1,1891.3 1199.1,1943.3"/>
<polygon points="1171.0,1902.4 1216.0,1876.4 1216.0,1928.4"/>
<polygon points="1187.9,1887.2 1232.9,1861.2 1232.9,1913.2"/>
<polygon points="1204.8,1871.7 1249.8,1845.7 1249.8,1897.7"/>
<polygon points="1221.7,1855.8 1266.7,1829.8 1266.7,1881.8"/>
<polygon points="1238.6,1839.6 1283.6,1813.6 1283.6,1865.6"/>
<polygon points="1255.5,1823.0 1300.5,1797.0 1300.5,1849.0"/>
<polygon points="1272.4,1806.1 1317.4,1780.1 1317.4,1832.1"/>
<polygon points="1289.3,1788.8 1334.3,1762.8 1334.3,1814.8"/>
<polygon points="1306.2,1771.2 1351.2,1745.2 1351.2,1797.2"/>
<polygon points="1323.1,1753.2 1368.1,1727.2 1368.1,1779.2"/>
<polygon points="1340.0,1734.9 1385.0,1708.9 1385.0,1760.9"/>
<polygon points="1356.9,1716.3 1401.9,1690.3 1401.9,1742.3"/>
<polygon points="1373.8,1697.3 1418.8,1671.3 1418.8,1723.3"/>
<polygon points="1390.7,1678.0 1435.7,1652.0 1435.7,1704.0"/>
<polygon points="1407.6,1658.3 1452.6,1632.3 1452.6,1684.3"/>
<polygon points="1424.5,1638.3 1469.5,1612.3 1469.5,1664.3"/>
<polygon points="1441.4,1618.4 1486.4,1592.4 1486.4,1644.4"/>
<polygon points="1458.3,1598.2 1503.3,1572.2 1503.3,1624.2"/>
<polygon points="1475.2,1577.7 1520.2,1551.7 1520.2,1603.7"/>
<polygon points="1492.1,1556.8 1537.1,1530.8 1537.1,1582.8"/>
<polygon points="1509.0,1535.7 1554.0,1509.7 1554.0,1561.7"/>
<polygon points="1525.9,1514.2 1570.9,1488.2 1570.9,1540.2"/>
<polygon points="1542.8,1492.5 1587.8,1466.5 1587.8,1518.5"/>
<polygon points="1559.7,1470.5 1604.7,1444.5 1604.7,1496.5"/>
<polygon points="1576.6,1448.2 1621.6,1422.2 1621.6,1474.2"/>
<polygon points="1593.5,1425.6 1638.5,1399.6 1638.5,1451.6"/>
<polygon points="1610.4,1402.7 1655.4,1376.7 1655.4,1428.7"/>
<polygon points="1627.3,1379.5 1672.3,1353.5 1672.3,1405.5"/>
<polygon points="1644.2,1356.0 1689.2,1330.0 1689.2,1382.0"/>
<polygon points="1661.1,1332.3 1706.1,1306.3 1706.1,1358.3"/>
<polygon points="1678.0,1308.2 1723.0,1282.2 1723.0,1334.2"/>
<polygon points="1694.9,1283.5 1739.9,1257.5 1739.9,1309.5"/>
<polygon points="1711.8,1258.5 1756.8,1232.5 1756.8,1284.5"/>
<polygon points="1728.7,1233.2 1773.7,1207.2 1773.7,1259.2"/>
<polygon points="1745.6,1207.6 1790.6,1181.6 1790.6,1233.6"/>
<polygon points="1762.5,1181.7 1807.5,1155.7 1807.5,1207.7"/>
<polygon points="1779.4,1155.5 1824.4,1129.5 1824.4,1181.5"/>
<polygon points="1796.3,1129.0 1841.3,1103.0 1841.3,1155.0"/>
<polygon points="1813.2,1102.3 1858.2,1076.3 1858.2,1128.3"/>
<polygon points="1830.1,1075.3 1875.1,1049.3 1875.1,1101.3"/>
<polygon points="1847.0,1048.0 1892.0,1022.0 1892.0,1074.0"/>
<polygon points="1863.9,1020.4 1908.9,994.4 1908.9,1046.4"/>
<polygon points="1880.8,992.6 1925.8,966.6 1925.8,1018.6"/>
<polygon points="1897.7,964.5 1942.7,938.5 1942.7,990.5"/>
<polygon points="1914.6,936.2 1959.6,910.2 1959.6,962.2"/>
<polygon points="1931.5,907.6 1976.5,881.6 1976.5,933.6"/>
<polygon points="1948.4,878.7 1993.4,852.7 1993.4,904.7"/>
<polygon points="1965.3,849.6 2010.3,823.6 2010.3,875.6"/>
<polygon points="1982.2,820.3 2027.2,794.3 2027.2,846.3"/>
<polygon points="1999.1,790.7 2044.1,764.7 2044.1,816.7"/>
</g>
<g fill="#fff" stroke="#800000" stroke-width="3.4" stroke-linejoin="miter">
<polygon points="470.5,2232.5 425.5,2206.5 425.5,2258.5"/>
<polygon points="487.4,2232.3 442.4,2206.3 442.4,2258.3"/>
<polygon points="504.3,2231.9 459.3,2205.9 459.3,2257.9"/>
<polygon points="521.2,2231.1 476.2,2205.1 476.2,2257.1"/>
<polygon points="538.1,2230.0 493.1,2204.0 493.1,2256.0"/>
<polygon points="555.0,2228.6 510.0,2202.6 510.0,2254.6"/>
<polygon points="571.9,2226.9 526.9,2200.9 526.9,2252.9"/>
<polygon points="588.8,2224.9 543.8,2198.9 543.8,2250.9"/>
<polygon points="605.7,2222.6 560.7,2196.6 560.7,2248.6"/>
<polygon points="622.6,2220.0 577.6,2194.0 577.6,2246.0"/>
<polygon points="639.5,2217.0 594.5,2191.0 594.5,2243.0"/>
<polygon points="656.4,2213.7 611.4,2187.7 611.4,2239.7"/>
<polygon points="673.3,2210.1 628.3,2184.1 628.3,2236.1"/>
<polygon points="690.2,2206.2 645.2,2180.2 645.2,2232.2"/>
<polygon points="707.1,2202.0 662.1,2176.0 662.1,2228.0"/>
<polygon points="724.0,2197.4 679.0,2171.4 679.0,2223.4"/>
<polygon points="740.9,2192.5 695.9,2166.5 695.9,2218.5"/>
<polygon points="757.8,2187.3 712.8,2161.3 712.8,2213.3"/>
<polygon points="774.7,2181.8 729.7,2155.8 729.7,2207.8"/>
<polygon points="791.6,2176.0 746.6,2150.0 746.6,2202.0"/>
<polygon points="808.5,2169.8 763.5,2143.8 763.5,2195.8"/>
<polygon points="825.4,2163.3 780.4,2137.3 780.4,2189.3"/>
<polygon points="842.3,2156.5 797.3,2130.5 797.3,2182.5"/>
<polygon points="859.2,2149.4 814.2,2123.4 814.2,2175.4"/>
<polygon points="876.1,2142.0 831.1,2116.0 831.1,2168.0"/>
<polygon points="893.0,2134.2 848.0,2108.2 848.0,2160.2"/>
<polygon points="909.9,2126.1 864.9,2100.1 864.9,2152.1"/>
<polygon points="926.8,2117.7 881.8,2091.7 881.8,2143.7"/>
<polygon points="943.7,2108.9 898.7,2082.9 898.7,2134.9"/>
<polygon points="960.6,2099.8 915.6,2073.8 915.6,2125.8"/>
<polygon points="977.5,2090.4 932.5,2064.4 932.5,2116.4"/>
<polygon points="994.4,2080.7 949.4,2054.7 949.4,2106.7"/>
<polygon points="1011.3,2070.7 966.3,2044.7 966.3,2096.7"/>
<polygon points="1028.2,2060.3 983.2,2034.3 983.2,2086.3"/>
<polygon points="1045.1,2049.7 1000.1,2023.7 1000.1,2075.7"/>
<polygon points="1062.0,2038.6 1017.0,2012.6 1017.0,2064.6"/>
<polygon points="1078.9,2027.3 1033.9,2001.3 1033.9,2053.3"/>
<polygon points="1095.8,2015.7 1050.8,1989.7 1050.8,2041.7"/>
<polygon points="1112.7,2003.7 1067.7,1977.7 1067.7,2029.7"/>
<polygon points="1129.6,1991.4 1084.6,1965.4 1084.6,2017.4"/>
<polygon points="1146.5,1978.8 1101.5,1952.8 1101.5,2004.8"/>
<polygon points="1163.4,1965.9 1118.4,1939.9 1118.4,1991.9"/>
<polygon points="1180.3,1952.7 1135.3,1926.7 1135.3,1978.7"/>
<polygon points="1197.2,1939.2 1152.2,1913.2 1152.2,1965.2"/>
<polygon points="1214.1,1925.3 1169.1,1899.3 1169.1,1951.3"/>
<polygon points="1231.0,1911.1 1186.0,1885.1 1186.0,1937.1"/>
<polygon points="1247.9,1896.6 1202.9,1870.6 1202.9,1922.6"/>
<polygon points="1264.8,1881.8 1219.8,1855.8 1219.8,1907.8"/>
<polygon points="1281.7,1866.7 1236.7,1840.7 1236.7,1892.7"/>
<polygon points="1298.6,1851.3 1253.6,1825.3 1253.6,1877.3"/>
<polygon points="1315.5,1835.6 1270.5,1809.6 1270.5,1861.6"/>
<polygon points="1332.4,1819.6 1287.4,1793.6 1287.4,1845.6"/>
<polygon points="1349.3,1803.2 1304.3,1777.2 1304.3,1829.2"/>
<polygon points="1366.2,1786.6 1321.2,1760.6 1321.2,1812.6"/>
<polygon points="1383.1,1769.7 1338.1,1743.7 1338.1,1795.7"/>
<polygon points="1400.0,1752.4 1355.0,1726.4 1355.0,1778.4"/>
<polygon points="1416.9,1734.9 1371.9,1708.9 1371.9,1760.9"/>
<polygon points="1433.8,1717.1 1388.8,1691.1 1388.8,1743.1"/>
<polygon points="1450.7,1699.0 1405.7,1673.0 1405.7,1725.0"/>
<polygon points="1467.6,1680.5 1422.6,1654.5 1422.6,1706.5"/>
<polygon points="1484.5,1661.8 1439.5,1635.8 1439.5,1687.8"/>
<polygon points="1501.4,1642.4 1456.4,1616.4 1456.4,1668.4"/>
<polygon points="1518.3,1622.6 1473.3,1596.6 1473.3,1648.6"/>
<polygon points="1535.2,1602.5 1490.2,1576.5 1490.2,1628.5"/>
<polygon points="1552.1,1582.1 1507.1,1556.1 1507.1,1608.1"/>
<polygon points="1569.0,1561.4 1524.0,1535.4 1524.0,1587.4"/>
<polygon points="1585.9,1540.4 1540.9,1514.4 1540.9,1566.4"/>
<polygon points="1602.8,1519.0 1557.8,1493.0 1557.8,1545.0"/>
<polygon points="1619.7,1497.4 1574.7,1471.4 1574.7,1523.4"/>
<polygon points="1636.6,1475.4 1591.6,1449.4 1591.6,1501.4"/>
<polygon points="1653.5,1453.2 1608.5,1427.2 1608.5,1479.2"/>
<polygon points="1670.4,1430.6 1625.4,1404.6 1625.4,1456.6"/>
<polygon points="1687.3,1407.8 1642.3,1381.8 1642.3,1433.8"/>
<polygon points="1704.2,1384.6 1659.2,1358.6 1659.2,1410.6"/>
<polygon points="1721.1,1361.2 1676.1,1335.2 1676.1,1387.2"/>
<polygon points="1738.0,1337.4 1693.0,1311.4 1693.0,1363.4"/>
<polygon points="1754.9,1313.3 1709.9,1287.3 1709.9,1339.3"/>
<polygon points="1771.8,1289.0 1726.8,1263.0 1726.8,1315.0"/>
<polygon points="1788.7,1264.3 1743.7,1238.3 1743.7,1290.3"/>
<polygon points="1805.6,1239.4 1760.6,1213.4 1760.6,1265.4"/>
<polygon points="1822.5,1214.2 1777.5,1188.2 1777.5,1240.2"/>
<polygon points="1839.4,1188.7 1794.4,1162.7 1794.4,1214.7"/>
<polygon points="1856.3,1162.9 1811.3,1136.9 1811.3,1188.9"/>
<polygon points="1873.2,1136.8 1828.2,1110.8 1828.2,1162.8"/>
<polygon points="1890.1,1110.5 1845.1,1084.5 1845.1,1136.5"/>
<polygon points="1907.0,1083.9 1862.0,1057.9 1862.0,1109.9"/>
<polygon points="1923.9,1057.0 1878.9,1031.0 1878.9,1083.0"/>
<polygon points="1940.8,1029.9 1895.8,1003.9 1895.8,1055.9"/>
<polygon points="1957.7,1002.5 1912.7,976.5 1912.7,1028.5"/>
<polygon points="1974.6,974.8 1929.6,948.8 1929.6,1000.8"/>
<polygon points="1991.5,946.9 1946.5,920.9 1946.5,972.9"/>
<polygon points="2008.4,918.8 1963.4,892.8 1963.4,944.8"/>
<polygon points="2025.3,890.3 1980.3,864.3 1980.3,916.3"/>
<polygon points="2042.2,861.7 1997.2,835.7 1997.2,887.7"/>
</g>
</g>
<g font-family="Liberation Serif, serif" font-size="106" fill="#000">
<text x="398" y="2259.5" text-anchor="end">0</text>
<text x="398" y="1724.2" text-anchor="end">400</text>
<text x="398" y="1189.0" text-anchor="end">800</text>
<text x="398" y="653.8" text-anchor="end">1200</text>
<text x="398" y="118.5" text-anchor="end">1600</text>
<text x="439.5" y="2354.8" text-anchor="middle" font-size="108">0.00</text>
<text x="777.5" y="2354.8" text-anchor="middle" font-size="108">0.01</text>
<text x="1115.5" y="2354.8" text-anchor="middle" font-size="108">0.02</text>
<text x="1453.5" y="2354.8" text-anchor="middle" font-size="108">0.03</text>
<text x="1791.5" y="2354.8" text-anchor="middle" font-size="108">0.04</text>
<text x="2129.5" y="2354.8" text-anchor="middle" font-size="108">0.05</text>
</g>
<text x="929" y="2483" font-family="Liberation Serif, serif" font-size="110" fill="#000">Tensile strain <tspan font-style="italic">ε</tspan><tspan font-style="italic" font-size="72" dy="20">z</tspan></text>
<text transform="translate(83.5,1536) rotate(-90)" x="0" y="0" font-family="Liberation Serif, serif" font-size="110" fill="#000">Strain energy (eV)</text>
<g fill="#fff" stroke="#000000" stroke-width="3.6"><rect x="581.0" y="152.0" width="34.0" height="34.0"/></g>
<text x="759.5" y="200.6" font-family="Liberation Serif, serif" font-size="100" fill="#000"><tspan font-style="italic">c</tspan> = 23.465 nm</text>
<g fill="#fff" stroke="#ff0000" stroke-width="3.4"><polygon points="591.0,272.8 605.0,272.8 612.5,277.3 617.0,284.3 617.0,290.3 619.5,294.3 617.0,298.3 617.0,304.3 612.5,311.3 605.0,315.8 591.0,315.8 583.5,311.3 579.0,304.3 579.0,298.3 576.5,294.3 579.0,290.3 579.0,284.3 583.5,277.3"/></g>
<text x="759.5" y="326.2" font-family="Liberation Serif, serif" font-size="100" fill="#000"><tspan font-style="italic">c</tspan> = 23.826 nm</text>
<g fill="#fff" stroke="#0000ff" stroke-width="3.4"><polygon points="598.0,388.9 623.5,434.9 572.5,434.9"/></g>
<text x="759.5" y="451.8" font-family="Liberation Serif, serif" font-size="100" fill="#000"><tspan font-style="italic">c</tspan> = 24.187 nm</text>
<g fill="#fff" stroke="#ff00ff" stroke-width="3.4"><polygon points="598.0,575.6 623.5,529.6 572.5,529.6"/></g>
<text x="759.5" y="577.4" font-family="Liberation Serif, serif" font-size="100" fill="#000"><tspan font-style="italic">c</tspan> = 24.548 nm</text>
<g fill="#fff" stroke="#808000" stroke-width="3.4"><polygon points="568.0,670.2 613.0,644.2 613.0,696.2"/></g>
<text x="759.5" y="703.0" font-family="Liberation Serif, serif" font-size="100" fill="#000"><tspan font-style="italic">c</tspan> = 24.909 nm</text>
<g fill="#fff" stroke="#800000" stroke-width="3.4"><polygon points="628.0,795.5 583.0,769.5 583.0,821.5"/></g>
<text x="759.5" y="828.6" font-family="Liberation Serif, serif" font-size="100" fill="#000"><tspan font-style="italic">c</tspan> = 25.27 nm</text>
</svg></div></body></html>
